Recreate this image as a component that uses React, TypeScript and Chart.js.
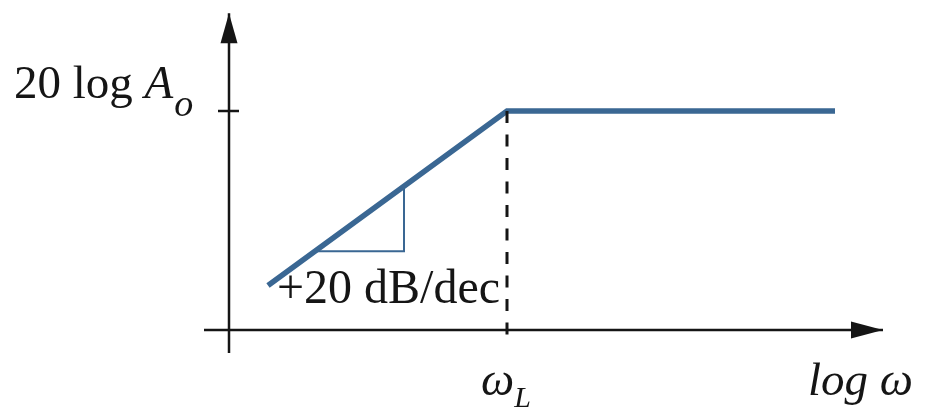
import React, { useEffect, useRef } from "react";
import { Chart, registerables } from "chart.js";

Chart.register(...registerables);

// ---- data (x: log ω in decades from the vertical axis, y: gain in dB) ----
const bodeX = [0.39, 2.78, 6.06];
const bodeY = [12.2, 60, 60];
const omegaL = 2.78;
const levelDb = 60;
const slopeLabel = "+20 dB/dec";
const triangleX = [0.87, 1.75, 1.75];
const triangleY = [21.6, 21.6, 39.2];
const xAxisSpan = [-0.25, 6.54];
const yAxisSpan = [-6.3, 86.8];
const yTickSpan = [-0.11, 0.1];
const dashedY = [60, -3.3];
const xRange = [-2.29, 6.97];
const yRange = [-23.56, 90.41];

const BLUE = "#3a6793";
const BLACK = "#151515";
const SERIF = "'Liberation Serif', 'DejaVu Serif', serif";

const pts = (xs: number[], ys: number[]) => xs.map((x, i) => ({ x, y: ys[i] }));

const overlay = {
  id: "overlay",
  afterDatasetsDraw(chart: any) {
    const { ctx, scales } = chart;
    const X = (v: number) => scales.x.getPixelForValue(v);
    const Y = (v: number) => scales.y.getPixelForValue(v);
    ctx.save();
    ctx.fillStyle = BLACK;
    // y-axis arrow head
    const ax = X(0);
    const ay = Y(yAxisSpan[1]);
    ctx.beginPath();
    ctx.moveTo(ax, ay);
    ctx.lineTo(ax - 8.5, ay + 30);
    ctx.lineTo(ax + 8.5, ay + 30);
    ctx.closePath();
    ctx.fill();
    // x-axis arrow head
    const bx = X(xAxisSpan[1]);
    const by = Y(0);
    ctx.beginPath();
    ctx.moveTo(bx, by);
    ctx.lineTo(bx - 32, by - 8.5);
    ctx.lineTo(bx - 32, by + 8.5);
    ctx.closePath();
    ctx.fill();

    ctx.textBaseline = "alphabetic";
    ctx.textAlign = "left";
    // 20 log A_o
    let tx = 14;
    const ty = Y(levelDb) - 13;
    ctx.font = `47px ${SERIF}`;
    ctx.fillText("20 log ", tx, ty);
    tx += ctx.measureText("20 log ").width;
    ctx.font = `italic 47px ${SERIF}`;
    ctx.fillText("A", tx, ty);
    tx += ctx.measureText("A").width + 1;
    ctx.font = `italic 38px ${SERIF}`;
    ctx.fillText("o", tx, ty + 18);

    // slope label
    ctx.font = `48px ${SERIF}`;
    ctx.fillText(slopeLabel, 277, Y(0) - 27);

    // ω_L
    ctx.font = `italic 47px ${SERIF}`;
    const wx = X(omegaL) - 26;
    ctx.fillText("ω", wx, 395);
    const ww = ctx.measureText("ω").width;
    ctx.font = `italic 30px ${SERIF}`;
    ctx.fillText("L", wx + ww, 407);

    // log ω
    ctx.font = `italic 47px ${SERIF}`;
    ctx.fillText("log ω", 808, 395);
    ctx.restore();
  },
};

export default function App() {
  const ref = useRef<HTMLCanvasElement>(null);
  useEffect(() => {
    if (!ref.current) return;
    const chart = new Chart(ref.current, {
      type: "scatter",
      data: {
        datasets: [
          {
            data: pts([omegaL, omegaL], dashedY),
            showLine: true,
            borderColor: BLACK,
            borderWidth: 3,
            borderDash: [12, 11.5],
            borderCapStyle: "butt",
            pointRadius: 0,
          },
          {
            data: pts(xAxisSpan, [0, 0]),
            showLine: true,
            borderColor: BLACK,
            borderWidth: 2.5,
            pointRadius: 0,
          },
          {
            data: pts([0, 0], yAxisSpan),
            showLine: true,
            borderColor: BLACK,
            borderWidth: 2.5,
            pointRadius: 0,
          },
          {
            data: pts(yTickSpan, [levelDb, levelDb]),
            showLine: true,
            borderColor: BLACK,
            borderWidth: 2.5,
            pointRadius: 0,
          },
          {
            data: pts(triangleX, triangleY),
            showLine: true,
            borderColor: BLUE,
            borderWidth: 2,
            pointRadius: 0,
          },
          {
            data: pts(bodeX, bodeY),
            showLine: true,
            borderColor: BLUE,
            borderWidth: 5.5,
            borderCapStyle: "butt",
            borderJoinStyle: "miter",
            pointRadius: 0,
          },
        ] as any,
      },
      options: {
        animation: false,
        responsive: false,
        layout: { padding: 0 },
        plugins: { legend: { display: false }, tooltip: { enabled: false } },
        scales: {
          x: { type: "linear", display: false, min: xRange[0], max: xRange[1] },
          y: { type: "linear", display: false, min: yRange[0], max: yRange[1] },
        },
        elements: { line: { tension: 0 } },
      } as any,
      plugins: [overlay],
    });
    return () => chart.destroy();
  }, []);
  return (
    <div style={{ position: "fixed", left: 0, top: 0, width: 926, height: 416, background: "#fff" }}>
      <canvas ref={ref} width={926} height={416} />
    </div>
  );
}
